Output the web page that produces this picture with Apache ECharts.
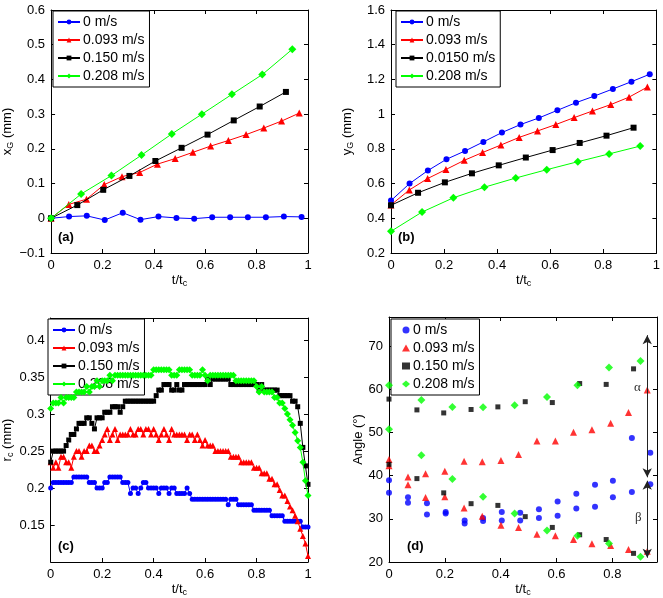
<!DOCTYPE html>
<html><head><meta charset="utf-8">
<script src="https://cdn.jsdelivr.net/npm/echarts/dist/echarts.min.js"></script>
<style>html,body{margin:0;padding:0;background:#fff}#c{width:663px;height:598px}</style>
</head><body><div id="c"></div><script>
// ---------- DATA ----------
const namesA = ['0 m/s', '0.093 m/s', '0.150 m/s', '0.208 m/s'];
const namesB = ['0 m/s', '0.093 m/s', '0.0150 m/s', '0.208 m/s'];

// time samples (t/tc) for panels (a),(b)
const t0   = [0, 0.07, 0.139, 0.209, 0.279, 0.348, 0.418, 0.488, 0.557, 0.627, 0.697, 0.766, 0.836, 0.906, 0.975];
const t093 = [0, 0.069, 0.138, 0.207, 0.276, 0.345, 0.414, 0.483, 0.552, 0.621, 0.69, 0.759, 0.828, 0.897, 0.966];
const t150 = [0, 0.102, 0.203, 0.305, 0.406, 0.508, 0.609, 0.711, 0.812, 0.914];
const t208 = [0, 0.117, 0.235, 0.352, 0.47, 0.587, 0.704, 0.822, 0.939];

// panel (a) xG (mm)
const xG0   = [0, 0.005, 0.007, -0.005, 0.016, -0.004, 0.005, 0.001, -0.001, 0.003, 0.003, 0.003, 0.003, 0.005, 0.004];
const xG093 = [0, 0.04, 0.055, 0.097, 0.12, 0.132, 0.156, 0.172, 0.19, 0.208, 0.224, 0.241, 0.26, 0.28, 0.303];
const xG150 = [0, 0.038, 0.082, 0.122, 0.165, 0.203, 0.241, 0.282, 0.322, 0.364];
const xG208 = [0, 0.07, 0.123, 0.182, 0.243, 0.3, 0.357, 0.414, 0.487];

// panel (b) yG (mm)
const yG0   = [0.502, 0.6, 0.675, 0.74, 0.788, 0.84, 0.894, 0.94, 0.978, 1.022, 1.066, 1.104, 1.145, 1.187, 1.23];
const yG093 = [0.477, 0.563, 0.629, 0.681, 0.734, 0.779, 0.822, 0.866, 0.903, 0.94, 0.98, 1.018, 1.055, 1.098, 1.156];
const yG150 = [0.475, 0.547, 0.607, 0.659, 0.705, 0.75, 0.793, 0.834, 0.876, 0.922];
const yG208 = [0.325, 0.436, 0.518, 0.579, 0.632, 0.68, 0.726, 0.771, 0.816];

// panel (c) time samples and r (mm)
const tC = [0,0.01,0.02,0.03,0.04,0.05,0.06,0.07,0.08,0.09,
  0.1,0.11,0.12,0.13,0.14,0.15,0.16,0.17,0.18,0.19,
  0.2,0.21,0.22,0.23,0.24,0.25,0.26,0.27,0.28,0.29,
  0.3,0.31,0.32,0.33,0.34,0.35,0.36,0.37,0.38,0.39,
  0.4,0.41,0.42,0.43,0.44,0.45,0.46,0.47,0.48,0.49,
  0.5,0.51,0.52,0.53,0.54,0.55,0.56,0.57,0.58,0.59,
  0.6,0.61,0.62,0.63,0.64,0.65,0.66,0.67,0.68,0.69,
  0.7,0.71,0.72,0.73,0.74,0.75,0.76,0.77,0.78,0.79,
  0.8,0.81,0.82,0.83,0.84,0.85,0.86,0.87,0.88,0.89,
  0.9,0.91,0.92,0.93,0.94,0.95,0.96,0.97,0.98,0.99,1];
const r0 = [0.2,0.2075,0.2075,0.2075,0.2075,0.2075,0.2075,0.2075,0.2075,0.215,
  0.215,0.215,0.215,0.215,0.215,0.2075,0.2075,0.2075,0.2,0.2,
  0.2,0.2075,0.2075,0.215,0.215,0.215,0.215,0.215,0.2075,0.2075,
  0.2075,0.1925,0.2,0.2,0.1925,0.2,0.2075,0.2075,0.2,0.2,
  0.2,0.2,0.1925,0.2,0.2,0.2,0.1925,0.2,0.2,0.1925,
  0.1925,0.1925,0.1925,0.2,0.1925,0.185,0.185,0.185,0.185,0.185,
  0.185,0.185,0.185,0.185,0.185,0.185,0.185,0.185,0.185,0.1775,
  0.185,0.185,0.185,0.1775,0.1775,0.1775,0.1775,0.1775,0.1775,0.17,
  0.17,0.17,0.17,0.17,0.17,0.17,0.1625,0.1625,0.1625,0.1625,
  0.1625,0.155,0.155,0.155,0.155,0.155,0.155,0.155,0.1475,0.1475,0.1475];
const r093 = [0.235,0.2275,0.235,0.2275,0.2425,0.2425,0.235,0.235,0.2275,0.2425,
  0.25,0.25,0.2425,0.25,0.25,0.2575,0.2575,0.25,0.25,0.2575,
  0.265,0.2725,0.28,0.265,0.2725,0.28,0.265,0.2725,0.2725,0.2725,
  0.2725,0.28,0.2725,0.2725,0.28,0.28,0.2725,0.28,0.28,0.2725,
  0.28,0.2725,0.265,0.2725,0.28,0.2725,0.265,0.28,0.2725,0.2725,
  0.2725,0.2725,0.2725,0.265,0.2725,0.2725,0.265,0.2725,0.265,0.2575,
  0.265,0.2575,0.2575,0.2575,0.25,0.25,0.25,0.25,0.25,0.25,
  0.2425,0.2425,0.2425,0.2425,0.235,0.235,0.235,0.235,0.235,0.2275,
  0.2275,0.2275,0.22,0.22,0.22,0.2125,0.2125,0.205,0.205,0.1975,
  0.19,0.19,0.1825,0.175,0.17,0.1625,0.155,0.145,0.135,0.125,0.108];
const r150 = [0.235,0.25,0.25,0.25,0.25,0.25,0.2575,0.265,0.2725,0.2725,
  0.28,0.2875,0.2875,0.2875,0.295,0.295,0.2875,0.28,0.295,0.295,
  0.295,0.3025,0.3025,0.3025,0.31,0.31,0.31,0.3025,0.31,0.3175,
  0.3175,0.3175,0.3175,0.3175,0.3175,0.3175,0.3175,0.3175,0.3175,0.3175,
  0.3175,0.325,0.3325,0.3325,0.34,0.34,0.34,0.3325,0.3325,0.34,
  0.3325,0.3325,0.34,0.34,0.34,0.34,0.34,0.34,0.34,0.34,
  0.34,0.3475,0.34,0.3475,0.3475,0.3475,0.3475,0.3475,0.3475,0.3475,
  0.34,0.34,0.34,0.34,0.34,0.34,0.34,0.34,0.34,0.34,
  0.34,0.3325,0.34,0.3325,0.3325,0.3325,0.3325,0.3325,0.3325,0.325,
  0.325,0.325,0.325,0.325,0.3175,0.3175,0.31,0.2875,0.255,0.23,0.205];
const r208 = [0.3075,0.315,0.315,0.315,0.3225,0.315,0.3225,0.3225,0.3225,0.3225,
  0.33,0.33,0.33,0.33,0.3375,0.33,0.3375,0.3375,0.345,0.3375,
  0.345,0.345,0.345,0.3525,0.345,0.3525,0.3525,0.3525,0.3525,0.3525,
  0.3525,0.3525,0.3525,0.3525,0.3525,0.3525,0.3525,0.3525,0.3525,0.3525,
  0.36,0.36,0.36,0.36,0.36,0.36,0.36,0.3525,0.3525,0.3525,
  0.36,0.36,0.36,0.36,0.36,0.3525,0.3525,0.3525,0.3525,0.36,
  0.3525,0.345,0.3525,0.3525,0.3525,0.3525,0.3525,0.3525,0.3525,0.3525,
  0.3525,0.3525,0.345,0.345,0.345,0.345,0.345,0.345,0.345,0.345,
  0.3375,0.33,0.3375,0.33,0.33,0.33,0.33,0.3225,0.3225,0.315,
  0.315,0.3075,0.3,0.2925,0.285,0.275,0.264,0.255,0.235,0.21,0.19];

// panel (d) time samples and angles (deg): upper (alpha) and lower (beta) sets
const tD0   = [0, 0.068, 0.136, 0.203, 0.271, 0.337, 0.404, 0.47, 0.537, 0.604, 0.671, 0.738, 0.802, 0.87, 0.936];
const tD093 = [0, 0.068, 0.131, 0.2, 0.269, 0.334, 0.401, 0.464, 0.53, 0.596, 0.661, 0.727, 0.794, 0.858, 0.925];
const tD150 = [0, 0.1, 0.196, 0.294, 0.39, 0.488, 0.585, 0.683, 0.778, 0.876];
const tD208 = [0, 0.116, 0.227, 0.337, 0.45, 0.566, 0.675, 0.788, 0.901];
const angUp0   = [38.9, 35.0, 33.6, 31.6, 29.6, 30.2, 31.6, 31.4, 32.2, 34.0, 35.8, 37.9, 38.8, 48.7, 45.3];
const angLo0   = [36.0, 33.7, 31.0, 31.2, 28.9, 29.5, 29.6, 29.6, 30.2, 30.7, 32.4, 32.8, 35.0, 36.2, 38.0];
const angUp093 = [43.7, 39.7, 40.4, 41.0, 43.3, 43.2, 43.5, 44.9, 48.0, 48.0, 50.0, 50.6, 52.1, 54.6, 59.8];
const angLo093 = [42.3, 37.9, 34.9, 35.1, 32.5, 30.6, 28.5, 28.0, 26.4, 26.1, 25.2, 24.2, 23.8, 22.9, 22.5];
const angUp150 = [57.7, 55.2, 54.5, 55.3, 55.9, 57.1, 56.9, 61.3, 61.1, 64.7];
const angLo150 = [42.6, 39.3, 36.0, 33.5, 33.1, 30.5, 28.0, 26.3, 25.2, 22.0];
const angUp208 = [60.9, 57.5, 55.9, 55.8, 56.3, 58.2, 60.9, 65.0, 66.5];
const angLo208 = [50.7, 44.7, 39.2, 35.1, 31.2, 27.3, 26.1, 24.3, 21.2];

// ---------- CHART ----------
const FONT = '"Liberation Sans", Arial, Helvetica, sans-serif';
const colors = ['#0000ff', '#ff0000', '#000000', '#00ff00'];
const symbols = ['circle', 'triangle', 'rect', 'diamond'];
const zip = (t, v) => t.map((x, i) => [x, v[i]]);

const grids = [
  {left: 50, top: 10, width: 258, height: 243},
  {left: 391, top: 10, width: 266, height: 243},
  {left: 44, top: 318, width: 264, height: 245},
  {left: 389, top: 317, width: 268, height: 246}
];
const xCfg = [
  {min: 0, max: 1, interval: 0.2},
  {min: 0, max: 1, interval: 0.2},
  {min: 0, max: 1, interval: 0.2},
  {min: 0, max: 0.96, interval: 0.2}
];
const yCfg = [
  {min: -0.1, max: 0.6, interval: 0.1, name: 'x{sub|G} (mm)', gap: 30},
  {min: 0.2, max: 1.6, interval: 0.2, name: 'y{sub|G} (mm)', gap: 36},
  {min: 0.1, max: 0.43, interval: 0.05, name: 'r{sub|c} (mm)', gap: 28},
  {min: 20, max: 76.7, interval: 10, name: 'Angle (°)', gap: 22}
];
const rich = {sub: {fontSize: 9, fontFamily: FONT, color: '#000', padding: [7, 0, 0, 0]}};

function axis(cfg, i, pos, main, extra) {
  return Object.assign({
    type: 'value', gridIndex: i, position: pos, min: cfg.min, max: cfg.max, interval: cfg.interval,
    axisLine: {show: true, onZero: false, lineStyle: {color: '#000', width: 1}},
    axisTick: {show: true, inside: true, length: 4, lineStyle: {color: '#000'}},
    splitLine: {show: false},
    axisLabel: {show: main, color: '#000', fontSize: 13, fontFamily: FONT, margin: 6,
                formatter: (v) => String(+v.toFixed(4)).replace('-', '\u2212'),
                showMaxLabel: !(cfg.max === 0.43 || cfg.max === 0.96 || cfg.max === 76.7),
                showMinLabel: cfg.min !== 0.1},
  }, extra || {});
}
const xAxes = [], yAxes = [];
for (let i = 0; i < 4; i++) {
  xAxes.push(axis(xCfg[i], i, 'bottom', true, {
    name: 't/t{sub|c}', nameLocation: 'middle', nameGap: 19,
    nameTextStyle: {color: '#000', fontSize: 13, fontFamily: FONT, rich}
  }));
  xAxes.push(axis(xCfg[i], i, 'top', false));
  yAxes.push(axis(yCfg[i], i, 'left', true, {
    name: yCfg[i].name, nameLocation: 'middle', nameGap: yCfg[i].gap, nameRotate: 90,
    nameTextStyle: {color: '#000', fontSize: 13, fontFamily: FONT, rich}
  }));
  yAxes.push(axis(yCfg[i], i, 'right', false));
}

const series = [];
function lineS(id, g, k, data, size) {
  series.push({
    id, name: id, type: 'line', xAxisIndex: 2 * g, yAxisIndex: 2 * g, data,
    symbol: symbols[k], symbolSize: size, showSymbol: true,
    lineStyle: {color: colors[k], width: 1}, itemStyle: {color: colors[k]},
    z: 2 + k
  });
}
function scatS(id, g, k, data, size) {
  series.push({
    id, name: id, type: 'scatter', xAxisIndex: 2 * g, yAxisIndex: 2 * g, data,
    symbol: symbols[k], symbolSize: size, itemStyle: {color: colors[k]}, z: 2 + k
  });
}
const sizesAB = [6, 7, 6, 8];
lineS('a0', 0, 0, zip(t0, xG0), sizesAB[0]);
lineS('a1', 0, 1, zip(t093, xG093), sizesAB[1]);
lineS('a2', 0, 2, zip(t150, xG150), sizesAB[2]);
lineS('a3', 0, 3, zip(t208, xG208), sizesAB[3]);
lineS('b0', 1, 0, zip(t0, yG0), sizesAB[0]);
lineS('b1', 1, 1, zip(t093, yG093), sizesAB[1]);
lineS('b2', 1, 2, zip(t150, yG150), sizesAB[2]);
lineS('b3', 1, 3, zip(t208, yG208), sizesAB[3]);
lineS('c0', 2, 0, zip(tC, r0), 5);
lineS('c1', 2, 1, zip(tC, r093), 6);
lineS('c2', 2, 2, zip(tC, r150), 5);
lineS('c3', 2, 3, zip(tC, r208), 7);
scatS('d0', 3, 0, zip(tD0, angUp0).concat(zip(tD0, angLo0)), 6);
scatS('d1', 3, 1, zip(tD093, angUp093).concat(zip(tD093, angLo093)), 7);
scatS('d2', 3, 2, zip(tD150, angUp150).concat(zip(tD150, angLo150)), 5);
scatS('d3', 3, 3, zip(tD208, angUp208).concat(zip(tD208, angLo208)), 8);

// annotation arrows (alpha / beta ranges) in panel (d)
series.push({
  id: 'ann', type: 'line', xAxisIndex: 6, yAxisIndex: 6, data: [], silent: true,
  markLine: {
    silent: true, symbol: ['arrow', 'arrow'], symbolSize: [7, 9],
    lineStyle: {color: '#222', width: 1, type: 'solid'}, label: {show: false},
    data: [
      [{coord: [0.925, 72.5]}, {coord: [0.925, 39.6]}],
      [{coord: [0.925, 38.8]}, {coord: [0.925, 21.0]}]
    ]
  },
  markPoint: {
    silent: true, symbol: 'circle', symbolSize: 1, itemStyle: {color: 'transparent'},
    label: {show: true, position: 'inside', color: '#333', fontSize: 13, fontFamily: '"Liberation Serif", "DejaVu Serif", serif'},
    data: [
      {coord: [0.89, 60.3], label: {formatter: 'α'}},
      {coord: [0.893, 30.2], label: {formatter: 'β'}}
    ]
  }
});

function legend(ids, names, left, top, iw, ih, padL) {
  return {
    data: ids, orient: 'vertical', left, top, itemWidth: iw, itemHeight: ih, itemGap: 4,
    padding: [4, 5, 4, padL], backgroundColor: '#fff', borderColor: '#000', borderWidth: 1,
    borderRadius: 0, selectedMode: false,
    textStyle: {color: '#000', fontSize: 14, fontFamily: FONT, padding: [0, 0, 0, -2]},
    formatter: (n) => names[ids.indexOf(n)]
  };
}

const panelLabel = (text, left, top) => ({
  text, left, top, textStyle: {fontSize: 13, fontWeight: 'bold', fontFamily: FONT, color: '#000'}, padding: 0
});

const option = {
  animation: false,
  backgroundColor: '#fff',
  grid: grids,
  xAxis: xAxes,
  yAxis: yAxes,
  legend: [
    legend(['a0', 'a1', 'a2', 'a3'], namesA, 53, 11, 22, 6, 4),
    legend(['b0', 'b1', 'b2', 'b3'], namesB, 396, 11, 22, 6, 4),
    legend(['c0', 'c1', 'c2', 'c3'], namesA, 48, 319, 22, 6, 4),
    legend(['d0', 'd1', 'd2', 'd3'], namesA, 391, 319, 8, 7, 11)
  ],
  title: [
    panelLabel('(a)', 58, 231),
    panelLabel('(b)', 398, 231),
    panelLabel('(c)', 58, 540),
    panelLabel('(d)', 407, 540)
  ],
  series
};
const chart = echarts.init(document.getElementById('c'), null, {renderer: 'canvas'});
chart.setOption(option);
</script></body></html>
